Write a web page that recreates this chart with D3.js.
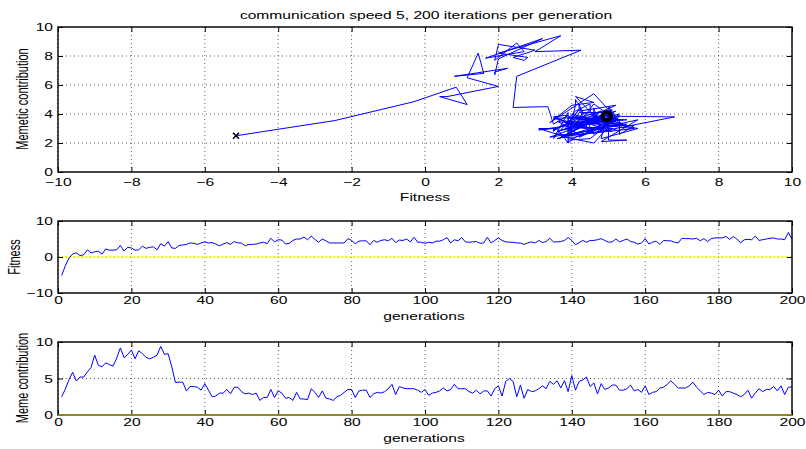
<!DOCTYPE html>
<html>
<head>
<meta charset="utf-8">
<script src="https://cdn.jsdelivr.net/npm/d3@7"></script>
<style>
  html, body { margin: 0; padding: 0; background: #fff; }
  svg { display: block; font-family: "Liberation Sans", Arial, Helvetica, sans-serif; }
</style>
</head>
<body>
<svg id="chart" width="806" height="449"></svg>
<script>
// Mean fitness of the population, one value per generation (1..200)
const fitness = [
  -5.15, -2.45, -0.3, 0.85, 1.15, 0.4, 0.6, 2.0, 1.15, 1.45,
  1.6, 0.8, 2.25, 1.9, 1.9, 2.0, 3.2, 1.65, 2.7, 2.5,
  1.9, 2.0, 3.0, 2.4, 2.7, 2.8, 2.0, 3.7, 3.0, 4.25,
  2.5, 2.4, 3.2, 3.35, 3.5, 3.9, 3.8, 3.5, 3.9, 4.2,
  3.9, 4.0, 3.6, 3.1, 3.6, 4.0, 3.5, 4.3, 3.9, 3.9,
  3.1, 3.5, 3.5, 3.6, 3.9, 4.1, 3.7, 5.2, 4.2, 4.8,
  4.7, 3.6, 3.8, 4.6, 5.0, 5.0, 5.5, 4.8, 5.8, 4.9,
  4.1, 5.0, 4.5, 3.9, 3.9, 3.9, 3.9, 3.9, 5.1, 4.6,
  3.7, 4.4, 4.5, 4.5, 3.4, 4.6, 4.1, 4.6, 4.8, 4.5,
  5.2, 4.0, 4.7, 4.6, 5.0, 4.2, 5.5, 4.1, 4.1, 3.8,
  4.1, 3.9, 4.4, 4.4, 4.8, 5.4, 3.9, 4.8, 4.5, 5.4,
  4.2, 4.1, 4.2, 4.3, 3.8, 3.9, 5.5, 3.9, 4.6, 5.3,
  4.6, 4.2, 4.1, 4.1, 3.9, 3.9, 3.5, 3.9, 4.2, 3.9,
  4.6, 4.0, 4.3, 5.2, 4.2, 4.2, 4.3, 4.6, 5.4, 4.6,
  3.4, 4.0, 4.6, 4.1, 4.6, 4.6, 4.8, 5.1, 4.6, 4.1,
  4.2, 5.0, 4.2, 4.6, 5.0, 4.3, 4.1, 3.6, 3.9, 5.1,
  3.6, 4.1, 4.4, 3.5, 4.6, 4.5, 4.5, 4.1, 3.9, 5.2,
  5.1, 5.1, 5.0, 5.2, 4.5, 5.1, 4.3, 5.1, 5.3, 5.3,
  5.3, 5.7, 4.9, 5.7, 5.0, 3.9, 4.8, 4.9, 4.8, 5.8,
  4.6, 4.8, 5.0, 5.2, 5.3, 5.0, 5.0, 4.8, 6.8, 4.95
];

// Memetic contribution, one value per generation (1..200)
const meme = [
  2.5, 3.55, 4.85, 5.85, 4.65, 5.2, 5.2, 5.9, 6.5, 8.2,
  6.8, 6.6, 7.15, 6.9, 6.7, 7.8, 9.2, 7.85, 8.3, 8.9,
  7.7, 8.8, 8.4, 7.9, 7.7, 7.9, 8.2, 9.4, 8.3, 8.4,
  6.6, 4.45, 4.5, 4.5, 3.3, 3.9, 3.9, 3.8, 3.4, 4.3,
  3.4, 2.5, 2.6, 3.0, 3.0, 3.5, 2.9, 3.8, 3.8, 3.2,
  2.9, 3.0, 2.8, 3.0, 2.0, 2.4, 2.4, 3.5, 2.4, 3.3,
  3.0, 2.3, 2.4, 2.0, 3.1, 2.2, 2.2, 2.1, 3.6, 3.1,
  2.4, 3.3, 2.3, 2.2, 2.0, 2.5, 2.7, 3.1, 3.5, 3.5,
  2.4, 3.3, 3.4, 3.4, 2.4, 2.9, 3.1, 3.0, 3.2, 3.6,
  4.2, 2.8, 3.9, 3.7, 3.6, 3.6, 3.6, 3.4, 3.1, 3.5,
  2.7, 3.0, 3.1, 3.3, 3.7, 3.3, 3.5, 4.2, 3.6, 3.6,
  3.6, 3.2, 3.0, 3.4, 2.9, 3.3, 3.3, 2.6, 3.6, 4.0,
  2.6, 4.6, 5.0, 4.6, 2.5, 4.1, 2.3, 3.5, 3.2, 3.3,
  3.6, 4.0, 3.6, 4.6, 4.2, 4.7, 3.7, 4.7, 3.2, 5.4,
  3.4, 4.6, 4.8, 5.2, 3.9, 4.4, 2.9, 4.3, 3.5, 3.7,
  4.1, 4.1, 3.4, 3.4, 3.6, 4.1, 3.3, 3.5, 3.1, 4.0,
  2.8, 3.1, 3.2, 3.7, 3.8, 4.2, 4.7, 4.2, 3.7, 3.7,
  3.7, 4.0, 4.5, 3.8, 3.3, 2.8, 3.1, 3.0, 2.8, 3.4,
  2.6, 3.2, 3.2, 3.0, 2.8, 2.5, 2.8, 3.4, 2.3, 3.0,
  3.6, 3.2, 3.5, 3.5, 3.9, 3.3, 4.0, 2.8, 3.8, 3.85
];

const generations = fitness.map((_, i) => i + 1);

// Tick values for each panel
const trajXTicks = [-10, -8, -6, -4, -2, 0, 2, 4, 6, 8, 10];
const trajYTicks = [0, 2, 4, 6, 8, 10];
const genTicks = [0, 20, 40, 60, 80, 100, 120, 140, 160, 180, 200];
const fitTicks = [-10, 0, 10];
const memeTicks = [0, 5, 10];

const titleText = "communication speed 5, 200 iterations per generation";

// ---- layout ----
const SX = 1.42;          // horizontal stretch of the lettering
const FONT = 11;
const LEFT = 58, RIGHT = 792;

const svg = d3.select("#chart");
svg.append("rect").attr("width", 806).attr("height", 449).attr("fill", "#fff");

function stretchedText(g, x, y, str, anchor) {
  return g.append("text")
    .attr("transform", `translate(${x},${y}) scale(${SX},1)`)
    .attr("text-anchor", anchor || "middle")
    .attr("font-size", FONT)
    .attr("fill", "#000")
    .text(str);
}

function rotatedLabel(g, x, y, str) {
  return g.append("text")
    .attr("transform", `translate(${x},${y}) rotate(-90) scale(1,${SX})`)
    .attr("text-anchor", "middle")
    .attr("font-size", FONT)
    .attr("fill", "#000")
    .text(str);
}

function panel(opts) {
  const { top, bottom, xDomain, yDomain, xTicks, yTicks, xLabelOffset } = opts;
  const x = d3.scaleLinear().domain(xDomain).range([LEFT, RIGHT]);
  const y = d3.scaleLinear().domain(yDomain).range([bottom, top]);
  const g = svg.append("g");

  // dotted grid
  const grid = g.append("g")
    .attr("stroke", "#3a3a3a")
    .attr("stroke-width", 0.8)
    .attr("stroke-dasharray", "1,3");
  grid.selectAll("line.vx").data(xTicks).join("line")
    .attr("x1", d => x(d)).attr("x2", d => x(d))
    .attr("y1", top).attr("y2", bottom);
  grid.selectAll("line.hy").data(yTicks).join("line")
    .attr("x1", LEFT).attr("x2", RIGHT)
    .attr("y1", d => y(d)).attr("y2", d => y(d));

  const plot = g.append("g");

  // axes with inward ticks on all four sides
  const axes = g.append("g");
  const bx = axes.append("g").attr("transform", `translate(0,${bottom})`)
    .call(d3.axisBottom(x).tickValues(xTicks).tickSizeInner(-5).tickSizeOuter(0));
  axes.append("g").attr("transform", `translate(0,${top})`)
    .call(d3.axisTop(x).tickValues(xTicks).tickSizeInner(-5).tickSizeOuter(0).tickFormat(""));
  const ly = axes.append("g").attr("transform", `translate(${LEFT},0)`)
    .call(d3.axisLeft(y).tickValues(yTicks).tickSizeInner(-5).tickSizeOuter(0));
  axes.append("g").attr("transform", `translate(${RIGHT},0)`)
    .call(d3.axisRight(y).tickValues(yTicks).tickSizeInner(-5).tickSizeOuter(0).tickFormat(""));
  axes.selectAll(".domain").remove();
  axes.selectAll(".tick line").attr("stroke", "#000").attr("stroke-width", 1);

  bx.selectAll("text")
    .attr("y", xLabelOffset).attr("dy", null)
    .attr("font-size", FONT).attr("font-family", null).attr("fill", "#000")
    .attr("transform", `scale(${SX},1)`);
  ly.selectAll("text")
    .attr("x", -5 / SX).attr("dy", "0.34em")
    .attr("font-size", FONT).attr("font-family", null).attr("fill", "#000")
    .attr("transform", `scale(${SX},1)`);

  // frame
  g.append("rect")
    .attr("x", LEFT).attr("y", top)
    .attr("width", RIGHT - LEFT).attr("height", bottom - top)
    .attr("fill", "none").attr("stroke", "#000").attr("stroke-width", 1.4);

  return { g, plot, x, y };
}

// ---- title ----
stretchedText(svg, 426, 18.5, titleText);

// ---- panel 1: trajectory of (fitness, memetic contribution) ----
const p1 = panel({
  top: 27, bottom: 172, xDomain: [-10, 10], yDomain: [0, 10],
  xTicks: trajXTicks, yTicks: trajYTicks, xLabelOffset: 14.5
});
const traj = d3.zip(fitness, meme);
p1.plot.append("path")
  .datum(traj)
  .attr("fill", "none").attr("stroke", "#0000ff").attr("stroke-width", 1)
  .attr("stroke-linejoin", "miter")
  .attr("d", d3.line().x(d => p1.x(d[0])).y(d => p1.y(d[1])));
// start marker (x) and end marker (o)
const start = traj[0], end = traj[traj.length - 1];
const sxp = p1.x(start[0]), syp = p1.y(start[1]), m = 3;
p1.g.append("path")
  .attr("d", `M${sxp - m},${syp - m}L${sxp + m},${syp + m}M${sxp - m},${syp + m}L${sxp + m},${syp - m}`)
  .attr("stroke", "#000").attr("stroke-width", 1.6).attr("fill", "none");
p1.g.append("circle")
  .attr("cx", p1.x(end[0])).attr("cy", p1.y(end[1])).attr("r", 4.2)
  .attr("fill", "none").attr("stroke", "#000").attr("stroke-width", 4);
stretchedText(svg, 425, 200.5, "Fitness");
rotatedLabel(svg, 28, 99, "Memetic contribution");

// ---- panel 2: fitness per generation ----
const p2 = panel({
  top: 221, bottom: 293, xDomain: [0, 200], yDomain: [-10, 10],
  xTicks: genTicks, yTicks: fitTicks, xLabelOffset: 11
});
p2.plot.append("line")
  .attr("x1", LEFT).attr("x2", RIGHT)
  .attr("y1", p2.y(0)).attr("y2", p2.y(0))
  .attr("stroke", "#ffff00").attr("stroke-width", 1);
p2.plot.append("path")
  .datum(generations)
  .attr("fill", "none").attr("stroke", "#0000ff").attr("stroke-width", 1)
  .attr("d", d3.line().x(d => p2.x(d)).y(d => p2.y(fitness[d - 1])));
stretchedText(svg, 424, 320, "generations");
rotatedLabel(svg, 20, 257, "Fitness");

// ---- panel 3: memetic contribution per generation ----
const p3 = panel({
  top: 342, bottom: 415, xDomain: [0, 200], yDomain: [0, 10],
  xTicks: genTicks, yTicks: memeTicks, xLabelOffset: 11.5
});
p3.plot.append("path")
  .datum(generations)
  .attr("fill", "none").attr("stroke", "#0000ff").attr("stroke-width", 1)
  .attr("d", d3.line().x(d => p3.x(d)).y(d => p3.y(meme[d - 1])));
// zero line, lying on the lower frame edge
p3.g.append("line")
  .attr("x1", LEFT).attr("x2", RIGHT)
  .attr("y1", p3.y(0)).attr("y2", p3.y(0))
  .attr("stroke", "#a8a21c").attr("stroke-width", 1.6);
stretchedText(svg, 424, 442, "generations");
rotatedLabel(svg, 28, 378, "Meme contribution");
</script>
</body>
</html>
